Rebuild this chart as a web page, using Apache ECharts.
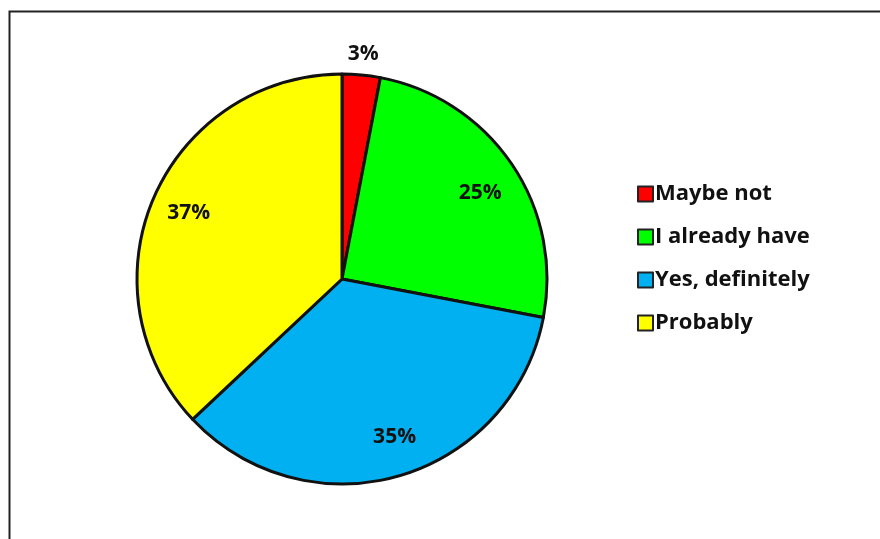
<!DOCTYPE html>
<html>
<head>
<meta charset="utf-8">
<script src="https://cdn.jsdelivr.net/npm/echarts@6/dist/echarts.min.js"></script>
<style>
  html, body { margin: 0; padding: 0; background: #fff; }
  #chart { width: 880px; height: 539px; }
</style>
</head>
<body>
<div id="chart"></div>
<script>
// answers and their shares (%)
const categories = ['Maybe not', 'I already have', 'Yes, definitely', 'Probably']
const values = [3, 25, 35, 37]
const colors = ['#FF0000', '#00FF00', '#00B0F0', '#FFFF00']

const font = '"Open Sans", Lato, sans-serif'
const center = [342, 279]
const R = 205
// small nudges so labels sit where the original put them
const labelNudge = [[0, 0], [0, 8], [6, -2], [0, 0]]

let chart = echarts.init(document.getElementById('chart'))

let slices = categories.map((name, i) => ({
  name: name,
  value: values[i],
  itemStyle: { color: colors[i] }
}))

// label layers: inner ring for the big slices, outer ring for the thin one
let innerLabels = slices.map((d, i) => ({
  name: d.name,
  value: d.value,
  label: { show: i !== 0, offset: labelNudge[i] }
}))
let outerLabels = slices.map((d, i) => ({
  name: d.name,
  value: d.value,
  label: { show: i === 0 }
}))

let labelStyle = {
  position: 'inside',
  formatter: '{c}%',
  color: '#111',
  fontFamily: font,
  fontWeight: 'bold',
  fontSize: 21
}

chart.setOption({
  animation: false,
  backgroundColor: '#fff',
  graphic: [{
    type: 'rect',
    shape: { x: 9.5, y: 11.5, width: 900, height: 560 },
    style: { fill: 'none', stroke: '#222', lineWidth: 2 },
    silent: true
  }],
  legend: {
    orient: 'vertical',
    left: 632,
    top: 177,
    itemWidth: 15,
    itemHeight: 15,
    itemGap: 19,
    icon: 'rect',
    itemStyle: { borderColor: '#222', borderWidth: 2 },
    textStyle: {
      color: '#111',
      fontFamily: font,
      fontWeight: 'bold',
      fontSize: 22,
      lineHeight: 24,
      padding: [0, 0, 0, -3]
    },
    data: categories
  },
  series: [
    {
      type: 'pie',
      center: center,
      radius: R,
      startAngle: 90,
      clockwise: true,
      silent: true,
      label: { show: false },
      labelLine: { show: false },
      itemStyle: { borderColor: '#111', borderWidth: 3 },
      data: slices
    },
    {
      type: 'pie',
      center: center,
      radius: [R * 0.6, R],
      startAngle: 90,
      silent: true,
      itemStyle: { color: 'transparent', borderWidth: 0 },
      label: labelStyle,
      labelLine: { show: false },
      legendHoverLink: false,
      data: innerLabels
    },
    {
      type: 'pie',
      center: center,
      radius: [R, R * 1.18],
      startAngle: 90,
      silent: true,
      itemStyle: { color: 'transparent', borderWidth: 0 },
      label: labelStyle,
      labelLine: { show: false },
      legendHoverLink: false,
      data: outerLabels
    }
  ]
})
</script>
</body>
</html>
